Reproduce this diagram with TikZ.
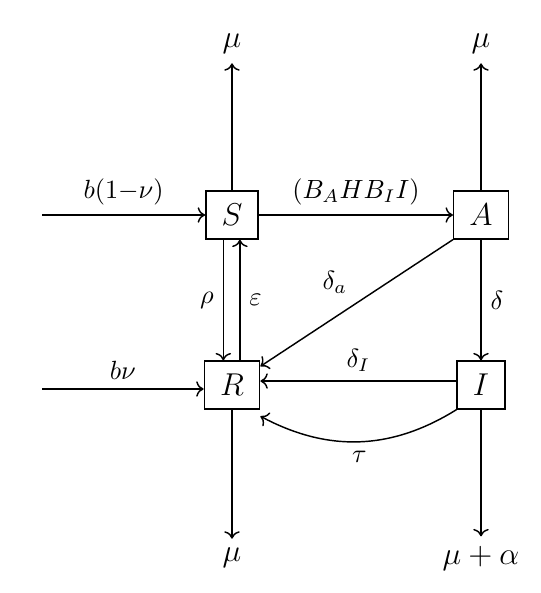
\documentclass[tikz,border=0pt]{standalone}
\usepackage{amsmath,amssymb}
\usepackage{tikz}
\usetikzlibrary{arrows.meta,positioning}

\begin{document}
\begin{tikzpicture}[x=0.38pt,y=-0.38pt,line width=0.55pt,
      comp/.style={draw,font=\large,inner xsep=6pt,minimum height=18.2pt},
      sink/.style={font=\large}]
    \useasboundingbox (0,0) rectangle (540,593);
    % compartments
    \node[comp] (S) at (232,215) {$S$};
    \node[comp] (A) at (481,215) {$A$};
    \node[comp] (R) at (232,385) {$R$};
    \node[comp] (I) at (481,385) {$I$};
    % inflow and outflow ends
    \coordinate (bS) at (42,215);
    \coordinate (bR) at (42,389);
    \node[sink] (muS) at (232,44) {$\mu$};
    \node[sink] (muA) at (481,44) {$\mu$};
    \node[sink] (muR) at (232,558) {$\mu$};
    \node[sink] (muI) at (481,558) {$\mu+\alpha$};
    % births
    \draw[->] (bS) -- (S) node[midway,above]{$b(1{-}\nu)$};
    \draw[->] (bR) -- (bR -| R.west) node[midway,above]{$b\nu$};
    % deaths
    \draw[->] (S) -- (muS);
    \draw[->] (A) -- (muA);
    \draw[->] (R) -- (muR);
    \draw[->] (I) -- (muI);
    % transitions
    \draw[->] (S) -- (A) node[midway,above]{$(B_AHB_II)$};
    \draw[->] ([xshift=-3.3pt]S.south) -- ([xshift=-3.3pt]R.north)
          node[midway,left]{$\rho$};
    \draw[->] ([xshift=3pt]R.north) -- ([xshift=3pt]S.south)
          node[midway,right]{$\varepsilon$};
    \draw[->] (A) -- (I) node[midway,right]{$\delta$};
    \draw[->] (A.south west) -- (R) node[midway,above left]{$\delta_a$};
    \draw[->] ([yshift=1.5pt]I.west) -- ([yshift=1.5pt]R.east)
          node[midway,above]{$\delta_I$};
    \draw[->] (I.south west) to[bend left=30]
          node[midway,below]{$\tau$} ([yshift=-2.5pt]R.south east);
\end{tikzpicture}
\end{document}
